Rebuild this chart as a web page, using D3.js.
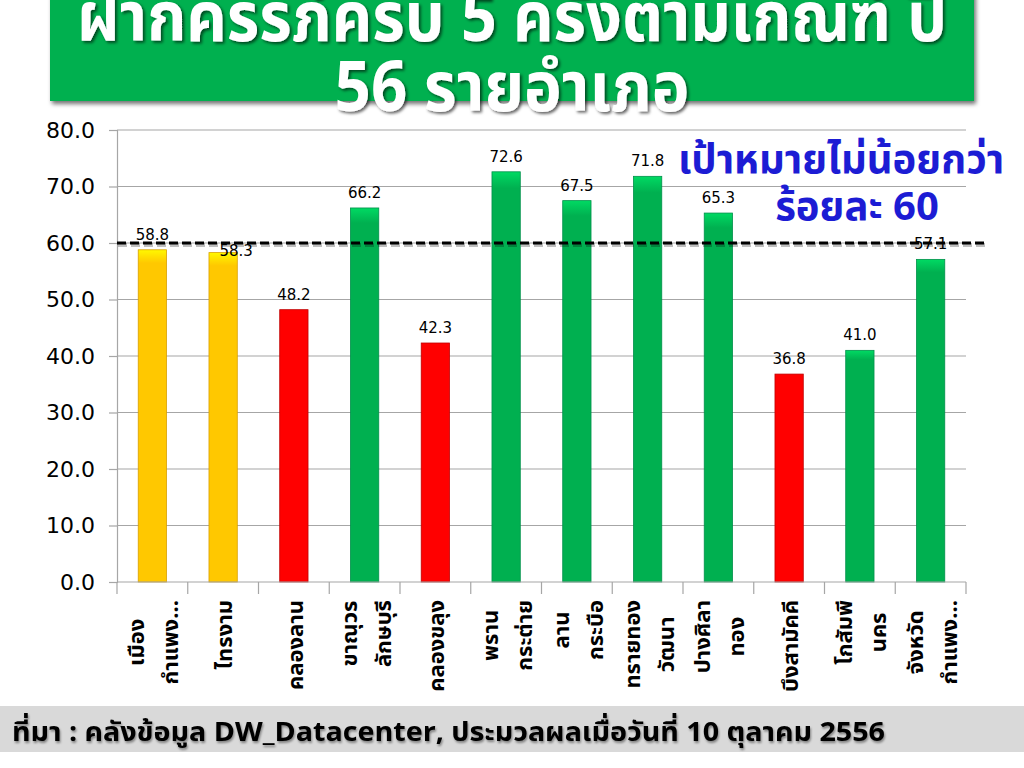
<!DOCTYPE html>
<html>
<head>
<meta charset="utf-8">
<script src="https://cdn.jsdelivr.net/npm/d3@7/dist/d3.min.js"></script>
<style>
  html, body { margin: 0; padding: 0; background: #ffffff; }
  svg { display: block; }
  text { font-family: "Open Sans", "Noto Sans", "Noto Sans Thai", sans-serif; }
</style>
</head>
<body>
<svg id="chart" width="1024" height="768"></svg>
<script>
// ---------- data ----------
const categories = [
  ["เมือง", "กำแพง..."],
  ["ไทรงาม"],
  ["คลองลาน"],
  ["ขาณุวร", "ลักษบุรี"],
  ["คลองขลุง"],
  ["พราน", "กระต่าย"],
  ["ลาน", "กระบือ"],
  ["ทรายทอง", "วัฒนา"],
  ["ปางศิลา", "ทอง"],
  ["บึงสามัคคี"],
  ["โกสัมพี", "นคร"],
  ["จังหวัด", "กำแพง..."]
];
const values = [58.8, 58.3, 48.2, 66.2, 42.3, 72.6, 67.5, 71.8, 65.3, 36.8, 41.0, 57.1];
const status = ["near", "near", "low", "ok", "low", "ok", "ok", "ok", "ok", "low", "ok", "ok"];
const yTicks = [0, 10, 20, 30, 40, 50, 60, 70, 80];
const target = 60;
const titleLines = ["ฝากครรภ์ครบ 5 ครั้งตามเกณฑ์ ปี", "56 รายอำเภอ"];
const targetLines = ["เป้าหมายไม่น้อยกว่า", "ร้อยละ 60"];
const footerText = "ที่มา :  คลังข้อมูล DW_Datacenter, ประมวลผลเมื่อวันที่ 10 ตุลาคม 2556";

// ---------- setup ----------
const svg = d3.select("#chart");
const colorMap = { near: "#FFC800", low: "#FF0000", ok: "#00B050" };
const edgeMap = { near: "#D9A000", low: "#C00000", ok: "#00904A" };

const defs = svg.append("defs");
const sh = defs.append("filter").attr("id", "shadow").attr("x", "-10%").attr("y", "-10%").attr("width", "130%").attr("height", "140%");
sh.append("feDropShadow").attr("dx", 2).attr("dy", 3).attr("stdDeviation", 2).attr("flood-color", "#000").attr("flood-opacity", 0.55);
const tsh = defs.append("filter").attr("id", "tshadow").attr("x", "-5%").attr("y", "-20%").attr("width", "115%").attr("height", "150%");
tsh.append("feDropShadow").attr("dx", 2).attr("dy", 2).attr("stdDeviation", 1.5).attr("flood-color", "#000").attr("flood-opacity", 0.6);
const fsh = defs.append("filter").attr("id", "fshadow").attr("x", "-5%").attr("y", "-30%").attr("width", "110%").attr("height", "170%");
fsh.append("feDropShadow").attr("dx", 1).attr("dy", 2).attr("stdDeviation", 1.2).attr("flood-color", "#000").attr("flood-opacity", 0.4);

Object.keys(colorMap).forEach(k => {
  const g = defs.append("linearGradient").attr("id", "g_" + k).attr("x1", 0).attr("x2", 0).attr("y1", 0).attr("y2", 1);
  g.append("stop").attr("offset", "0").attr("stop-color", d3.color(colorMap[k]).brighter(0.6));
  g.append("stop").attr("offset", "0.04").attr("stop-color", colorMap[k]);
  g.append("stop").attr("offset", "1").attr("stop-color", colorMap[k]);
});

const plot = { left: 117, right: 966, top: 130, bottom: 582 };
const x = d3.scaleBand().domain(d3.range(categories.length)).range([plot.left, plot.right])
  .paddingInner(0.6).paddingOuter(0.3);
const y = d3.scaleLinear().domain([0, 80]).range([plot.bottom, plot.top]);

// ---------- title ----------
svg.append("rect").attr("x", 50).attr("y", -10).attr("width", 924).attr("height", 111)
  .attr("fill", "#00B050").attr("filter", "url(#shadow)");
const titleW = [870, 355];
svg.append("g").selectAll("text").data(titleLines).join("text")
  .attr("x", 512).attr("y", (d, i) => 41 + i * 70)
  .attr("text-anchor", "middle").attr("fill", "#fff").attr("font-weight", "bold")
  .attr("font-size", 70).attr("filter", "url(#tshadow)")
  .attr("textLength", (d, i) => titleW[i]).attr("lengthAdjust", "spacingAndGlyphs")
  .text(d => d);

// ---------- grid & axes ----------
const grid = svg.append("g");
grid.selectAll("line").data(yTicks.filter(t => t > 0)).join("line")
  .attr("x1", plot.left).attr("x2", plot.right)
  .attr("y1", d => y(d)).attr("y2", d => y(d))
  .attr("stroke", "#A6A6A6").attr("stroke-width", 1.2);

const yAxis = svg.append("g").attr("transform", `translate(${plot.left},0)`)
  .call(d3.axisLeft(y).tickValues(yTicks).tickFormat(d3.format(".1f")).tickSize(8).tickPadding(14));
yAxis.select(".domain").attr("stroke", "#A6A6A6").attr("stroke-width", 1.2);
yAxis.selectAll(".tick line").attr("stroke", "#A6A6A6").attr("stroke-width", 1.2);
yAxis.selectAll(".tick text").attr("font-size", 22).attr("fill", "#000")
  .style("font-family", "'DejaVu Sans', sans-serif");

// ---------- bars ----------
svg.append("g").selectAll("rect").data(values).join("rect")
  .attr("x", (d, i) => x(i)).attr("width", x.bandwidth())
  .attr("y", d => y(d)).attr("height", d => y(0) - y(d))
  .attr("fill", (d, i) => `url(#g_${status[i]})`)
  .attr("stroke", (d, i) => edgeMap[status[i]]).attr("stroke-width", 0.8);

// x-axis line & boundary ticks
const step = x.step();
const bounds = d3.range(categories.length + 1).map(i => plot.left + i * step);
svg.append("line").attr("x1", plot.left).attr("x2", plot.right)
  .attr("y1", y(0)).attr("y2", y(0)).attr("stroke", "#A6A6A6").attr("stroke-width", 1.2);
svg.append("g").selectAll("line").data(bounds).join("line")
  .attr("x1", d => d).attr("x2", d => d).attr("y1", y(0)).attr("y2", y(0) + 12)
  .attr("stroke", "#A6A6A6").attr("stroke-width", 1.2);

// target dashed line (with soft shadow line beneath)
svg.append("line").attr("x1", plot.left + 1).attr("x2", 989)
  .attr("y1", y(target) + 2).attr("y2", y(target) + 2)
  .attr("stroke", "#000").attr("stroke-opacity", 0.25).attr("stroke-width", 4).attr("stroke-dasharray", "9,4");
svg.append("line").attr("x1", plot.left).attr("x2", 988)
  .attr("y1", y(target)).attr("y2", y(target))
  .attr("stroke", "#000").attr("stroke-width", 3).attr("stroke-dasharray", "9,4");

// value labels
svg.append("g").selectAll("text").data(values).join("text")
  .attr("x", (d, i) => x(i) + x.bandwidth() / 2 + (i === 1 ? 13 : 0))
  .attr("y", (d, i) => y(d) - (i === 1 ? -3 : 10))
  .attr("text-anchor", "middle").attr("font-size", 15).attr("fill", "#000")
  .style("font-family", "'DejaVu Sans', sans-serif")
  .text(d => d3.format(".1f")(d));

// category labels (rotated)
const catG = svg.append("g");
categories.forEach((lines, i) => {
  const cx = x(i) + x.bandwidth() / 2;
  const g = catG.append("g");
  const texts = g.selectAll("text").data(lines).join("text")
    .attr("font-size", 22).attr("font-weight", "bold").attr("fill", "#000")
    .attr("text-anchor", "middle").attr("dominant-baseline", "central")
    .text(d => d);
  let maxLen = 0;
  texts.each(function () { maxLen = Math.max(maxLen, this.getComputedTextLength()); });
  const n = lines.length;
  const sp = 34;
  texts.attr("transform", (d, j) => {
    const off = (j - (n - 1) / 2) * sp;
    return `translate(${cx + off},${600 + maxLen / 2}) rotate(-90)`;
  });
});

// target annotation
svg.append("g").selectAll("text").data(targetLines).join("text")
  .attr("x", (d, i) => i === 0 ? 841 : 857).attr("y", (d, i) => 173 + i * 47)
  .attr("text-anchor", "middle").attr("fill", "#1C1CD4").attr("font-weight", "bold")
  .attr("font-size", 40)
  .text(d => d);

// ---------- footer ----------
svg.append("rect").attr("x", 0).attr("y", 706).attr("width", 1024).attr("height", 46).attr("fill", "#D9D9D9");
svg.append("text").attr("x", 12).attr("y", 741).attr("font-size", 27).attr("font-weight", "bold")
  .attr("textLength", 873).attr("lengthAdjust", "spacingAndGlyphs")
  .attr("fill", "#000").attr("filter", "url(#fshadow)").text(footerText);
</script>
</body>
</html>
